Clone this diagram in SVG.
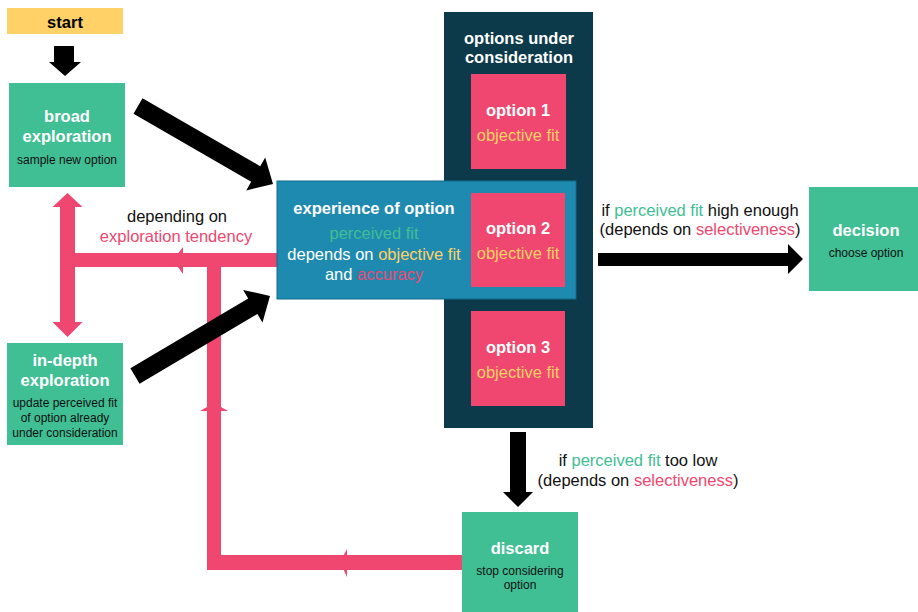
<svg xmlns="http://www.w3.org/2000/svg" width="918" height="612" viewBox="0 0 918 612">
<style>
text{font-family:"Liberation Sans",Arial,sans-serif;text-anchor:middle}
.h{font-size:16.5px;font-weight:bold;fill:#fff}
.hb{font-size:16.5px;font-weight:bold;fill:#000}
.s{font-size:12px;fill:#111}
.n{font-size:16.5px;fill:#fff}
.t{font-size:16.5px;fill:#111}
.g{fill:#41BE94}
.y{fill:#FFD166}
.p{fill:#EF476F}
.green{fill:#40BE94}
.pink{fill:#EF476F}
.blk{fill:#000}
</style>
<rect width="918" height="612" fill="#fff"/>
<g id="connectors">
  <!-- pink paths -->
  <rect class="pink" x="60" y="207" width="15" height="115"/>
  <polygon class="pink" points="52.5,207 67.5,193 82.5,207"/>
  <polygon class="pink" points="52.5,322 67.5,337 82.5,322"/>
  <rect class="pink" x="75" y="253" width="203" height="14"/>
  <polygon class="pink" points="173,260 183,247 183,274"/>
  <rect class="pink" x="207" y="260" width="14" height="310"/>
  <polygon class="pink" points="214,403 200,411 228,411"/>
  <rect class="pink" x="207" y="555" width="256" height="15"/>
  <polygon class="pink" points="340,562 347,549 347,577"/>
  <!-- black arrows -->
  <polygon class="blk" points="54,46 74,46 74,62 81,62 65,76 49,62 54,62"/>
  <polygon class="blk" points="142.5,98.2 260.2,166.2 265.2,157.5 273,184 246.2,190.5 251.2,181.8 133.5,113.8"/>
  <polygon class="blk" points="130.4,368.3 248.2,298.5 243.1,289.9 270,296 262.5,322.5 257.4,313.9 139.6,383.7"/>
  <polygon class="blk" points="598,253 788,253 788,244 803,259 788,274 788,266 598,266"/>
  <polygon class="blk" points="510,432 526,432 526,492 533,492 518,507 503,492 510,492"/>
</g>
<g id="start">
  <rect x="7" y="8" width="116" height="26" fill="#FFD166"/>
  <text class="hb" x="65" y="28">start</text>
</g>
<g id="broad">
  <rect class="green" x="9" y="83" width="116" height="104"/>
  <text class="h" x="67" y="122">broad</text>
  <text class="h" x="67" y="142">exploration</text>
  <text class="s" x="67" y="164">sample new option</text>
</g>
<g id="indepth">
  <rect class="green" x="7" y="343" width="116" height="102"/>
  <text class="h" x="65" y="366">in-depth</text>
  <text class="h" x="65" y="386">exploration</text>
  <text class="s" x="65" y="407">update perceived fit</text>
  <text class="s" x="65" y="422">of option already</text>
  <text class="s" x="65" y="437">under consideration</text>
</g>
<g id="options">
  <rect x="444" y="12" width="149" height="416" fill="#0D3A4B"/>
  <text class="h" x="519" y="44">options under</text>
  <text class="h" x="519" y="63">consideration</text>
</g>
<g id="experience">
  <rect x="277" y="181" width="299" height="118" fill="#1E8AB0" stroke="#136C8C" stroke-width="1"/>
  <text class="h" x="374" y="214">experience of option</text>
  <text class="n g" x="374" y="239">perceived fit</text>
  <text class="n" x="374" y="260">depends on <tspan class="y">objective fit</tspan></text>
  <text class="n" x="374" y="280">and <tspan class="p">accuracy</tspan></text>
</g>
<g id="option1">
  <rect class="pink" x="471" y="74" width="95" height="95"/>
  <text class="h" x="518" y="116">option 1</text>
  <text class="n y" x="518" y="141">objective fit</text>
</g>
<g id="option2">
  <rect class="pink" x="471" y="193" width="94" height="94"/>
  <text class="h" x="518" y="234">option 2</text>
  <text class="n y" x="518" y="259">objective fit</text>
</g>
<g id="option3">
  <rect class="pink" x="471" y="311" width="94" height="95"/>
  <text class="h" x="518" y="353">option 3</text>
  <text class="n y" x="518" y="378">objective fit</text>
</g>
<g id="decision">
  <rect class="green" x="809" y="187" width="112" height="104"/>
  <text class="h" x="866" y="236">decision</text>
  <text class="s" x="866" y="257">choose option</text>
</g>
<g id="discard">
  <rect class="green" x="462" y="512" width="116" height="104"/>
  <text class="h" x="520" y="554">discard</text>
  <text class="s" x="520" y="575">stop considering</text>
  <text class="s" x="520" y="589">option</text>
</g>
<g id="labels">
  <text class="t" x="177" y="222">depending on</text>
  <text class="t p" x="176" y="242">exploration tendency</text>
  <text class="t" x="700" y="216">if <tspan class="g">perceived fit</tspan> high enough</text>
  <text class="t" x="700" y="235">(depends on <tspan class="p">selectiveness</tspan>)</text>
  <text class="t" x="638" y="466">if <tspan class="g">perceived fit</tspan> too low</text>
  <text class="t" x="638" y="486">(depends on <tspan class="p">selectiveness</tspan>)</text>
</g>
</svg>
